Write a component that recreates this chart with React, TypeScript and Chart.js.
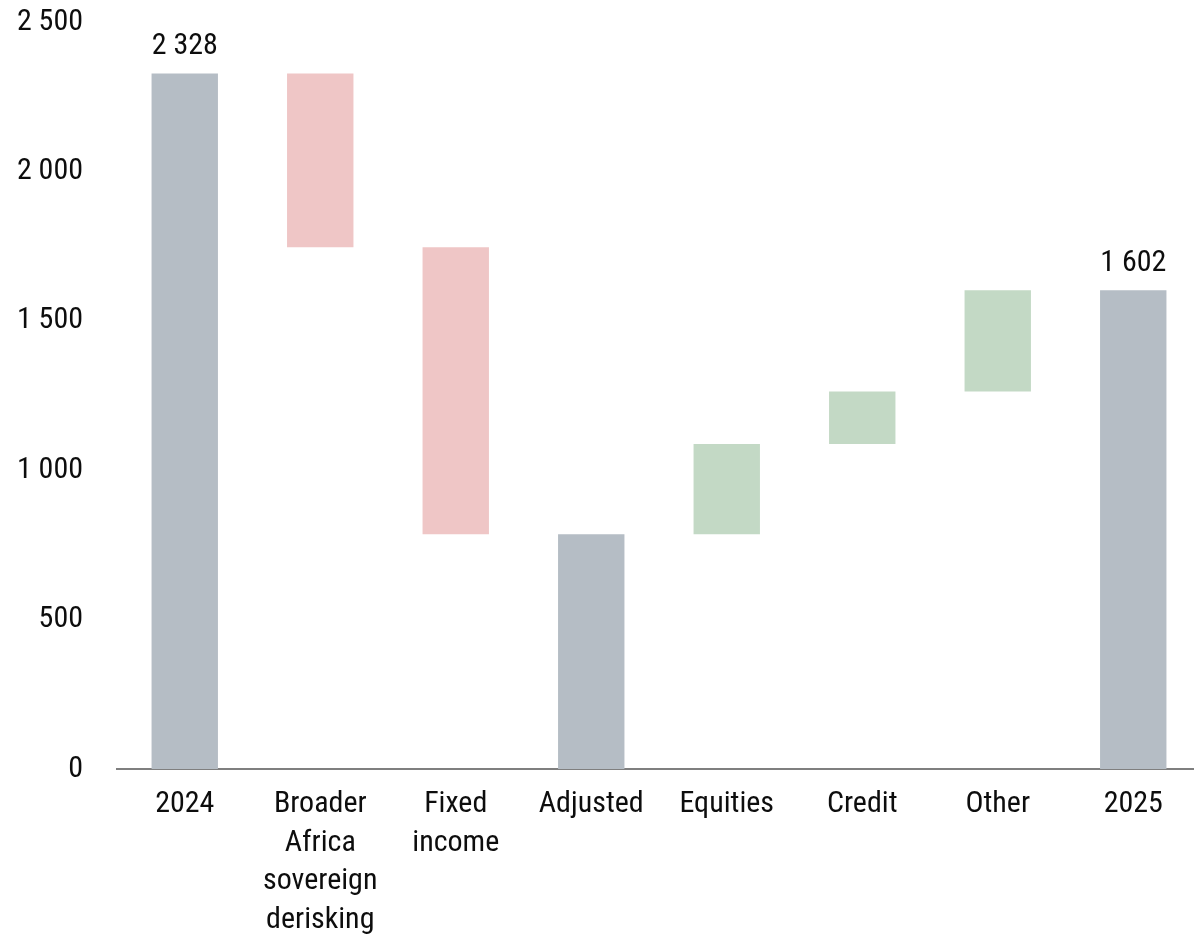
import React, { useEffect, useRef } from "react";
import { Chart, registerables } from "chart.js";

Chart.register(...registerables);

// Category labels (multi-line where the label wraps)
const categories: string[][] = [
  ["2024"],
  ["Broader", "Africa", "sovereign", "derisking"],
  ["Fixed", "income"],
  ["Adjusted"],
  ["Equities"],
  ["Credit"],
  ["Other"],
  ["2025"],
];

// Opening total, then the movements; subtotals are computed from them
const openingValue = 2328;
const sovereignDerisking = -582;
const fixedIncome = -960;
const equities = 302;
const credit = 175;
const other = 339;

const yTicks = [0, 500, 1000, 1500, 2000, 2500];

const FONT = "'Roboto Condensed', 'Liberation Sans Narrow', 'Arial Narrow', sans-serif";
const FONT_SIZE = 30;
const GREY = "#b5bdc5";
const RED = "#efc6c6";
const GREEN = "#c3d9c5";

type Step = { kind: "total" | "delta"; value: number; labelled: boolean };

const steps: Step[] = [
  { kind: "total", value: openingValue, labelled: true },
  { kind: "delta", value: sovereignDerisking, labelled: false },
  { kind: "delta", value: fixedIncome, labelled: false },
  { kind: "total", value: 0, labelled: false },
  { kind: "delta", value: equities, labelled: false },
  { kind: "delta", value: credit, labelled: false },
  { kind: "delta", value: other, labelled: false },
  { kind: "total", value: 0, labelled: true },
];

function buildFloatingBars() {
  let running = 0;
  const ranges: [number, number][] = [];
  const colors: string[] = [];
  const totals: number[] = [];
  steps.forEach((s, i) => {
    if (s.kind === "total") {
      if (i === 0) running = s.value;
      ranges.push([0, running]);
      colors.push(GREY);
    } else {
      const next = running + s.value;
      ranges.push([Math.min(running, next), Math.max(running, next)]);
      colors.push(s.value < 0 ? RED : GREEN);
      running = next;
    }
    totals.push(running);
  });
  return { ranges, colors, totals };
}

const formatNumber = (v: number) =>
  Math.round(v).toString().replace(/\B(?=(\d{3})+(?!\d))/g, " ");

export default function App() {
  const canvasRef = useRef<HTMLCanvasElement | null>(null);

  useEffect(() => {
    if (!canvasRef.current) return;
    const { ranges, colors, totals } = buildFloatingBars();

    const valueLabels = {
      id: "valueLabels",
      afterDatasetsDraw(chart: any) {
        const ctx = chart.ctx;
        const meta = chart.getDatasetMeta(0);
        ctx.save();
        ctx.font = `${FONT_SIZE}px ${FONT}`;
        ctx.fillStyle = "#0d0d0d";
        ctx.textAlign = "center";
        ctx.textBaseline = "alphabetic";
        steps.forEach((s, i) => {
          if (!s.labelled) return;
          const bar = meta.data[i];
          ctx.fillText(formatNumber(totals[i]), bar.x, bar.y - 19);
        });
        ctx.restore();
      },
    };

    const chart = new Chart(canvasRef.current, {
      type: "bar",
      data: {
        labels: categories,
        datasets: [
          {
            data: ranges as any,
            backgroundColor: colors,
            borderWidth: 0,
            categoryPercentage: 1,
            barPercentage: 0.49,
          },
        ],
      },
      options: {
        animation: false,
        responsive: true,
        maintainAspectRatio: false,
        layout: { padding: { top: 22, right: 0, left: 0, bottom: 0 } },
        plugins: {
          legend: { display: false },
          tooltip: { enabled: false },
        },
        scales: {
          x: {
            grid: { display: false, drawTicks: false },
            border: { display: true, color: "#7f7f7f", width: 2 },
            ticks: {
              color: "#0d0d0d",
              font: { family: FONT, size: FONT_SIZE, lineHeight: 1.29 },
              padding: 16,
              maxRotation: 0,
              autoSkip: false,
            },
            afterFit(scale: any) {
              scale.height = 165;
              scale.paddingLeft = 0;
              scale.paddingRight = 0;
            },
          },
          y: {
            min: 0,
            max: 2500,
            afterBuildTicks(scale: any) {
              scale.ticks = yTicks.map((v) => ({ value: v }));
            },
            grid: { display: false, drawTicks: false },
            border: { display: false },
            ticks: {
              color: "#0d0d0d",
              font: { family: FONT, size: FONT_SIZE },
              padding: 34,
              callback: (v: any) => formatNumber(Number(v)),
            },
            afterFit(scale: any) {
              scale.width = 117;
              scale.paddingTop = 0;
              scale.paddingBottom = 0;
            },
          },
        },
      },
      plugins: [valueLabels],
    });

    return () => chart.destroy();
  }, []);

  return (
    <div
      style={{
        position: "fixed",
        left: 0,
        top: 0,
        width: 1194,
        height: 934,
        overflow: "hidden",
        background: "#ffffff",
      }}
    >
      <div style={{ position: "relative", width: 1201, height: 934 }}>
        <canvas ref={canvasRef} />
      </div>
    </div>
  );
}
